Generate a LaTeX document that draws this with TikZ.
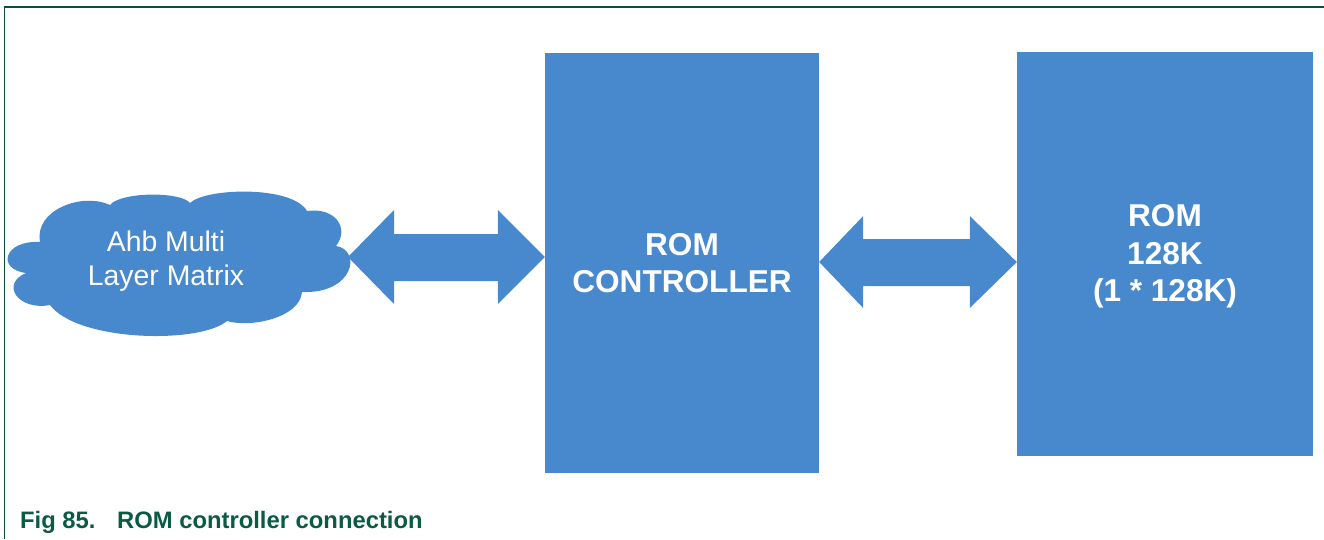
\documentclass[tikz,border=0pt]{standalone}
\usepackage{fontspec}
\setmainfont{Liberation Sans}
\usetikzlibrary{calc}
\definecolor{blk}{HTML}{4789CC}
\definecolor{frame}{HTML}{0B4F3C}
\definecolor{cap}{HTML}{0B5A42}
\tikzset{
  box/.style={fill=blk, draw=none, inner sep=0pt, align=center, text=white,
    font=\bfseries\fontsize{31.6}{37.5}\selectfont},
  cloudfill/.style={fill=blk, draw=none},
  cloudtext/.style={text=white, align=center, font=\fontsize{28.4}{34}\selectfont},
  bigarrow/.style={fill=blk, draw=none},
  frameline/.style={draw=frame, line width=1.4pt},
  caption/.style={anchor=base west, inner sep=0pt, text=cap,
    font=\bfseries\fontsize{23.8}{28}\selectfont}
}
\begin{document}
\begin{tikzpicture}[x=1pt, y=-1pt]
\useasboundingbox (0,0) rectangle (1324,539);
% frame
\coordinate (ftl) at (4.5,7);
\coordinate (ftr) at (1324,7);
\coordinate (fbl) at (4.5,539);
\draw[frameline] (fbl) -- (ftl) -- (ftr);
% blocks
\node[box, minimum width=274pt, minimum height=420pt] (ctrl) at (682,263) {ROM\\CONTROLLER};
\node[box, minimum width=296pt, minimum height=404pt] (rom) at (1165,254) {};
\node[box, fill=none] (romlbl) at (1165,256.5) {ROM\\128K\\(1 * 128K)};
% cloud
\fill[cloudfill] (40,242)
  .. controls (34,210) and (82,192) .. (110,205)
  .. controls (120,192) and (180,191) .. (190,203)
  .. controls (205,188) and (292,185) .. (307,211)
  .. controls (335,207) and (350,228) .. (336,246)
  .. controls (362,250) and (354,294) .. (302,292)
  .. controls (300,318) and (250,328) .. (227,321)
  .. controls (200,344) and (78,342) .. (50,305)
  .. controls (18,311) and (0,284) .. (26,273)
  .. controls (-4,269) and (4,240) .. (40,242) -- cycle;
\coordinate (cloudE) at (348,257);
\node[cloudtext] (cloudlbl) at (166,261) {Ahb Multi\\Layer Matrix};
% left double arrow
\coordinate (lb) at (ctrl.west |- cloudE);
\fill[bigarrow] (cloudE) -- ++(46,-47) -- ++(0,24) -- ($(lb)+(-47,-23)$) -- ++(0,-24)
  -- (lb) -- ++(-47,47) -- ++(0,-23) -- ($(cloudE)+(46,24)$) -- ++(0,23) -- cycle;
% right double arrow
\coordinate (ra) at (ctrl.east |- 0,262);
\coordinate (rb) at (rom.west |- ra);
\fill[bigarrow] (ra) -- ++(44,-46) -- ++(0,23) -- ($(rb)+(-47,-23)$) -- ++(0,-23)
  -- (rb) -- ++(-47,46) -- ++(0,-22) -- ($(ra)+(44,24)$) -- ++(0,22) -- cycle;
% caption
\node[caption] (capt) at (20,528) {\makebox[97pt][l]{Fig 85.}ROM controller connection};
\end{tikzpicture}
\end{document}
